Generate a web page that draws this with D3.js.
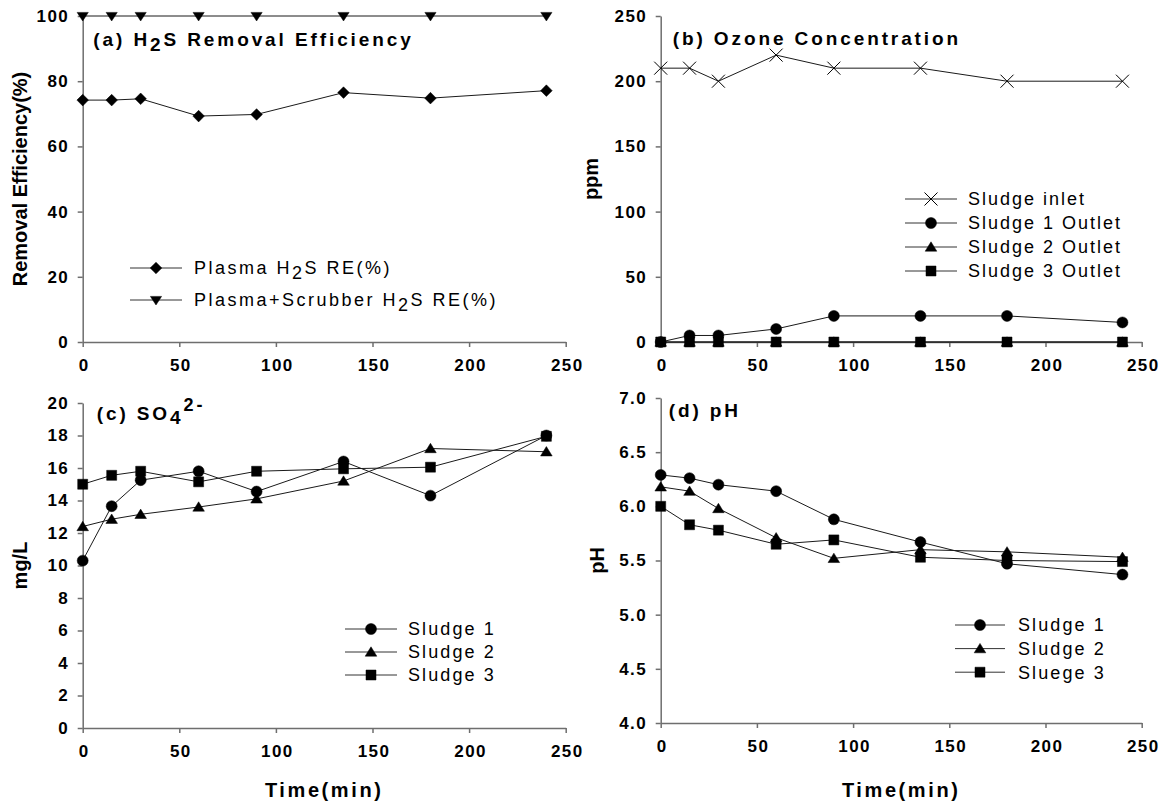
<!DOCTYPE html>
<html>
<head>
<meta charset="utf-8">
<script src="https://cdn.jsdelivr.net/npm/d3@7"></script>
<style>
  body { margin: 0; background: #fff; }
  svg { display: block; font-family: "Liberation Sans", Arial, sans-serif; }
</style>
</head>
<body>
<svg id="chart" width="1162" height="805"></svg>
<script>
// sampling times (min), shared by every panel
const time = [0, 15, 30, 60, 90, 135, 180, 240];
const xTicks = [0, 50, 100, 150, 200, 250];

// (a) H2S removal efficiency (%)
const plasmaRE = [74.2, 74.2, 74.6, 69.3, 69.8, 76.5, 74.8, 77.1];
const plasmaScrubberRE = [100, 100, 100, 100, 100, 100, 100, 100];
const reTicks = [0, 20, 40, 60, 80, 100];

// (b) ozone concentration (ppm)
const ozoneInlet = [210, 210, 200, 220, 210, 210, 200, 200];
const ozoneOut1 = [0, 5, 5, 10, 20, 20, 20, 15];
const ozoneOut2 = [0, 0, 0, 0, 0, 0, 0, 0];
const ozoneOut3 = [0, 0, 0, 0, 0, 0, 0, 0];
const ppmTicks = [0, 50, 100, 150, 200, 250];

// (c) SO4 2- (mg/L)
const so4Sludge1 = [10.3, 13.65, 15.25, 15.8, 14.55, 16.4, 14.3, 18.0];
const so4Sludge2 = [12.4, 12.85, 13.15, 13.6, 14.1, 15.2, 17.2, 17.0];
const so4Sludge3 = [15.0, 15.55, 15.8, 15.15, 15.8, 15.95, 16.05, 17.95];
const so4Ticks = [0, 2, 4, 6, 8, 10, 12, 14, 16, 18, 20];

// (d) pH
const phSludge1 = [6.29, 6.26, 6.20, 6.14, 5.88, 5.67, 5.47, 5.37];
const phSludge2 = [6.18, 6.14, 5.98, 5.71, 5.52, 5.60, 5.58, 5.53];
const phSludge3 = [6.00, 5.83, 5.78, 5.65, 5.69, 5.53, 5.50, 5.49];
const phTicks = [4.0, 4.5, 5.0, 5.5, 6.0, 6.5, 7.0];

const svg = d3.select("#chart");
const axisColor = "#6e6e6e";

// marker shapes, centred on 0,0
function markerPath(type) {
  switch (type) {
    case "diamond": return "M0,-5.8L5.8,0L0,5.8L-5.8,0Z";
    case "tridown": return "M-5.6,-3.6L5.6,-3.6L0,5Z";
    case "triup": return "M0,-5.2L5.8,4.2L-5.8,4.2Z";
    case "square": return "M-5,-5H5V5H-5Z";
    case "circle": return d3.symbol(d3.symbolCircle, 95)();
    case "cross": return "M-6.5,-6.5L6.5,6.5M6.5,-6.5L-6.5,6.5";
  }
}

function drawMarker(g, type, x, y) {
  g.append("path")
    .attr("d", markerPath(type))
    .attr("transform", `translate(${x},${y})`)
    .attr("fill", type == "cross" ? "none" : "#000")
    .attr("stroke", "#000")
    .attr("stroke-width", type == "cross" ? 1 : 0.5);
}

// text made of pieces, some shifted down (sub) or up (sup)
function richText(g, parts, x, y, size, weight, spacing) {
  const t = g.append("text")
    .attr("x", x).attr("y", y)
    .attr("font-size", size)
    .attr("font-weight", weight)
    .attr("letter-spacing", spacing)
    .attr("fill", "#000");
  let shift = 0;
  parts.forEach(p => {
    const target = p.sub ? p.sub : 0;
    t.append("tspan")
      .attr("dy", target - shift)
      .attr("font-size", p.small ? size * p.small : size)
      .text(p.t);
    shift = target;
  });
  return t;
}

function drawPanel(cfg) {
  const x = d3.scaleLinear().domain([0, 250]).range([cfg.left, cfg.right]);
  const y = d3.scaleLinear().domain(cfg.yDomain).range([cfg.bottom, cfg.top]);
  const g = svg.append("g");

  // axes
  const xAxis = g.append("g")
    .attr("transform", `translate(0,${cfg.bottom})`)
    .call(d3.axisBottom(x).tickValues(xTicks).tickSize(5).tickSizeOuter(0).tickPadding(12));
  const yAxis = g.append("g")
    .attr("transform", `translate(${cfg.left},0)`)
    .call(d3.axisLeft(y).tickValues(cfg.yTicks).tickSize(5).tickSizeOuter(0)
      .tickPadding(10).tickFormat(cfg.yFormat));
  [xAxis, yAxis].forEach(a => {
    a.select(".domain").attr("stroke", axisColor).attr("stroke-width", 1.5);
    a.selectAll(".tick line").attr("stroke", axisColor).attr("stroke-width", 1.5);
    a.selectAll(".tick text")
      .attr("font-size", 17).attr("font-weight", "bold")
      .attr("letter-spacing", 1.4).attr("fill", "#000")
      .attr("font-family", "Liberation Sans, Arial, sans-serif");
  });
  xAxis.selectAll(".tick text").attr("dx", 1);
  yAxis.selectAll(".tick text").attr("dx", 1.4);

  // series
  const line = d3.line().x((d, i) => x(time[i])).y(d => y(d));
  cfg.series.forEach(s => {
    g.append("path")
      .datum(s.values)
      .attr("d", line)
      .attr("fill", "none")
      .attr("stroke", "#1a1a1a")
      .attr("stroke-width", 1);
  });
  cfg.series.forEach(s => {
    s.values.forEach((v, i) => drawMarker(g, s.marker, x(time[i]), y(v)));
  });

  // legend
  const L = cfg.legend;
  cfg.series.forEach((s, i) => {
    const ly = L.y + i * L.step;
    g.append("line")
      .attr("x1", L.x).attr("x2", L.x + L.len)
      .attr("y1", ly).attr("y2", ly)
      .attr("stroke", "#333").attr("stroke-width", 1);
    drawMarker(g, s.marker, L.x + L.len / 2, ly);
    richText(g, s.label, L.x + L.len + L.gap, ly + L.size * 0.36, L.size, "normal", L.spacing);
  });

  // panel title
  richText(g, cfg.title, cfg.left + cfg.titleDx, cfg.titleY, 19, "bold", 2.9);

  // y axis title
  g.append("text")
    .attr("transform", `translate(${cfg.yTitleX},${(cfg.top + cfg.bottom) / 2}) rotate(-90)`)
    .attr("text-anchor", "middle")
    .attr("font-size", 20).attr("font-weight", "bold")
    .text(cfg.yTitle);

  // x axis title (bottom row only)
  if (cfg.xTitle) {
    g.append("text")
      .attr("x", (cfg.left + cfg.right) / 2).attr("y", 797)
      .attr("text-anchor", "middle")
      .attr("font-size", 20).attr("font-weight", "bold")
      .attr("letter-spacing", 2.6)
      .text(cfg.xTitle);
  }
}

drawPanel({
  left: 82.7, right: 565.7, top: 16, bottom: 342,
  yDomain: [0, 100], yTicks: reTicks, yFormat: d3.format("d"),
  yTitle: "Removal Efficiency(%)", yTitleX: 27,
  title: [{t: "(a) H"}, {t: "2", sub: 5}, {t: "S Removal Efficiency"}], titleDx: 10.6, titleY: 46,
  series: [
    {values: plasmaRE, marker: "diamond",
     label: [{t: "Plasma H"}, {t: "2", sub: 5}, {t: "S RE(%)"}]},
    {values: plasmaScrubberRE, marker: "tridown",
     label: [{t: "Plasma+Scrubber H"}, {t: "2", sub: 5}, {t: "S RE(%)"}]}
  ],
  legend: {x: 130, y: 268, step: 32, len: 52, gap: 12, size: 18, spacing: 2.5}
});

drawPanel({
  left: 660.7, right: 1141.7, top: 16, bottom: 342,
  yDomain: [0, 250], yTicks: ppmTicks, yFormat: d3.format("d"),
  yTitle: "ppm", yTitleX: 598,
  title: [{t: "(b) Ozone Concentration"}], titleDx: 12, titleY: 45,
  series: [
    {values: ozoneInlet, marker: "cross", label: [{t: "Sludge inlet"}]},
    {values: ozoneOut1, marker: "circle", label: [{t: "Sludge 1 Outlet"}]},
    {values: ozoneOut2, marker: "triup", label: [{t: "Sludge 2 Outlet"}]},
    {values: ozoneOut3, marker: "square", label: [{t: "Sludge 3 Outlet"}]}
  ],
  legend: {x: 905, y: 199, step: 24, len: 52, gap: 11, size: 18, spacing: 2.0}
});

drawPanel({
  left: 82.7, right: 565.7, top: 403, bottom: 728,
  yDomain: [0, 20], yTicks: so4Ticks, yFormat: d3.format("d"),
  yTitle: "mg/L", yTitleX: 27, xTitle: "Time(min)",
  title: [{t: "(c) SO"}, {t: "4", sub: 4}, {t: "2-", sub: -9, small: 0.95}], titleDx: 14, titleY: 420,
  series: [
    {values: so4Sludge1, marker: "circle", label: [{t: "Sludge 1"}]},
    {values: so4Sludge2, marker: "triup", label: [{t: "Sludge 2"}]},
    {values: so4Sludge3, marker: "square", label: [{t: "Sludge 3"}]}
  ],
  legend: {x: 345, y: 629, step: 23, len: 52, gap: 11, size: 18, spacing: 2.1}
});

drawPanel({
  left: 660.7, right: 1141.7, top: 398, bottom: 723,
  yDomain: [4, 7], yTicks: phTicks, yFormat: d3.format(".1f"),
  yTitle: "pH", yTitleX: 604, xTitle: "Time(min)",
  title: [{t: "(d) pH"}], titleDx: 8, titleY: 417,
  series: [
    {values: phSludge1, marker: "circle", label: [{t: "Sludge 1"}]},
    {values: phSludge2, marker: "triup", label: [{t: "Sludge 2"}]},
    {values: phSludge3, marker: "square", label: [{t: "Sluege 3"}]}
  ],
  legend: {x: 955, y: 625, step: 23.6, len: 50, gap: 13, size: 18, spacing: 2.1}
});
</script>
</body>
</html>
